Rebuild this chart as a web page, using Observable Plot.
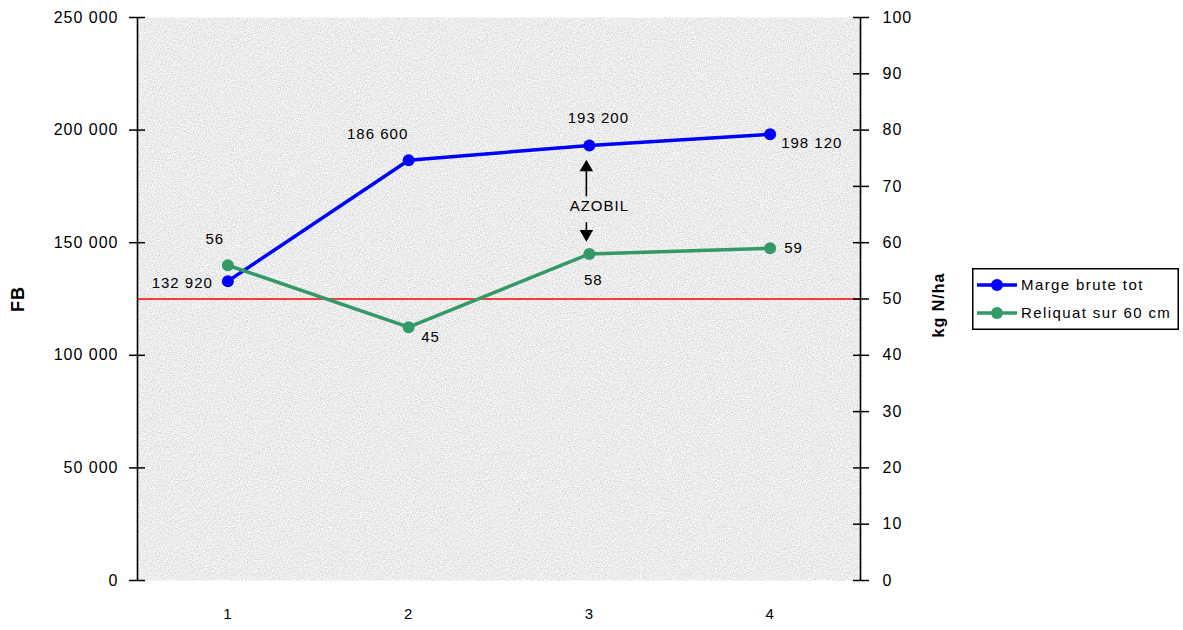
<!DOCTYPE html>
<html>
<head>
<meta charset="utf-8">
<script src="https://cdn.jsdelivr.net/npm/d3@7"></script>
<script src="https://cdn.jsdelivr.net/npm/@observablehq/plot@0.6"></script>
<style>
  html, body { margin: 0; padding: 0; background: #ffffff; }
  #wrap { position: relative; width: 1183px; height: 630px; font-family: "Liberation Sans", Arial, sans-serif; }
  #legend { position: absolute; left: 972px; top: 268px; }
</style>
</head>
<body>
<div id="wrap">
  <div id="chart"></div>
  <div id="legend"></div>
</div>
<script>
// ---- data ----
const categories = [1, 2, 3, 4];
const margeBrute = [132920, 186600, 193200, 198120];   // FB (left axis)
const reliquat = [56, 45, 58, 59];                      // kg N/ha (right axis)
const seuilAzote = [50];                                // kg N/ha reference line
const leftTicks = [0, 50000, 100000, 150000, 200000, 250000];
const rightTicks = [0, 10, 20, 30, 40, 50, 60, 70, 80, 90, 100];
const seriesNames = ["Marge brute tot", "Reliquat sur 60 cm"];
const annotationText = "AZOBIL";
const annotationCategory = 3;
const leftLabel = "FB";
const rightLabel = "kg N/ha";

// ---- scales ----
const leftMax = 250000, rightMax = 100;
const k = leftMax / rightMax; // right-axis value -> left units
const blue = "#0000ff", green = "#339966";
const fmt = v => d3.format(",")(v).replace(/,/g, " ");

const blueData = categories.map((c, i) => ({x: c, y: margeBrute[i], label: fmt(margeBrute[i])}));
const greenData = categories.map((c, i) => ({x: c, y: reliquat[i] * k, label: String(reliquat[i])}));

const blueOffsets = [{dx: -15, dy: 2, a: "end"}, {dx: -31, dy: -26, a: "middle"}, {dx: 9, dy: -27, a: "middle"}, {dx: 11, dy: 9, a: "start"}];
const greenOffsets = [{dx: -13, dy: -26, a: "middle"}, {dx: 22, dy: 10, a: "middle"}, {dx: 4, dy: 26, a: "middle"}, {dx: 14, dy: 0, a: "start"}];

const ai = categories.indexOf(annotationCategory);
const aBlue = margeBrute[ai], aGreen = reliquat[ai] * k, aMid = (aBlue + aGreen) / 2;
const ann = [{x: annotationCategory, mid: aMid, top: aBlue, bot: aGreen}];

const labelMarks = [];
blueData.forEach((d, i) => labelMarks.push(Plot.text([d], {x: "x", y: "y", text: "label", dx: blueOffsets[i].dx, dy: blueOffsets[i].dy, textAnchor: blueOffsets[i].a, fontSize: 15, fill: "#000"})));
greenData.forEach((d, i) => labelMarks.push(Plot.text([d], {x: "x", y: "y", text: "label", dx: greenOffsets[i].dx, dy: greenOffsets[i].dy, textAnchor: greenOffsets[i].a, fontSize: 15, fill: "#000"})));

const chart = Plot.plot({
  width: 1183,
  height: 630,
  marginLeft: 137,
  marginRight: 323,
  marginTop: 17,
  marginBottom: 50,
  style: {fontFamily: "'Liberation Sans', Arial, sans-serif", fontSize: "15px", letterSpacing: "1px", color: "#000", background: "transparent"},
  x: {domain: [0.5, 4.5], axis: null},
  y: {domain: [0, leftMax], axis: null},
  marks: [
    Plot.frame({fill: "#e6e6e6", stroke: null}),
    Plot.ruleY(seuilAzote, {y: d => d * k, stroke: "#ff0000", strokeWidth: 1.6}),
    Plot.axisX({ticks: categories, tickSize: 0, tickPadding: 28, tickFormat: d => String(d), fontSize: 15, label: null}),
    Plot.axisY({ticks: leftTicks, anchor: "left", tickSize: 16, dx: 8, tickPadding: 11, tickFormat: fmt, fontSize: 16, letterSpacing: "1.8px", stroke: "#000", strokeWidth: 1.5, label: null}),
    Plot.axisY({ticks: rightTicks.map(v => v * k), anchor: "right", tickSize: 16, dx: -8, tickPadding: 14, tickFormat: d => String(Math.round(d / k)), fontSize: 16, stroke: "#000", strokeWidth: 1.5, label: null}),
    Plot.ruleX([0.5, 4.5], {stroke: "#000", strokeWidth: 1.6}),
    Plot.line(blueData, {x: "x", y: "y", stroke: blue, strokeWidth: 3.5}),
    Plot.dot(blueData, {x: "x", y: "y", r: 6, fill: blue}),
    Plot.line(greenData, {x: "x", y: "y", stroke: green, strokeWidth: 3.5}),
    Plot.dot(greenData, {x: "x", y: "y", r: 6, fill: green}),
    ...labelMarks,
    // AZOBIL annotation
    Plot.text(ann, {x: "x", y: "mid", text: () => annotationText, dx: 10, dy: 7, fontSize: 15, fill: "#000"}),
    Plot.arrow(ann, {x1: "x", x2: "x", y1: "mid", y2: "top", dx: -3, insetStart: 4, insetEnd: 26, headLength: 0, stroke: "#000", strokeWidth: 1.6}),
    Plot.arrow(ann, {x1: "x", x2: "x", y1: "mid", y2: "bot", dx: -3, insetStart: 23, insetEnd: 22, headLength: 0, stroke: "#000", strokeWidth: 1.6}),
    Plot.dot(ann, {x: "x", y: "top", dx: -3, dy: 22, symbol: "triangle", r: 5, fill: "#000", stroke: null}),
    Plot.dot(ann, {x: "x", y: "bot", dx: -3, dy: -20, symbol: "triangle", r: 5, rotate: 180, fill: "#000", stroke: null}),
    // axis titles
    Plot.text([leftLabel], {frameAnchor: "left", textAnchor: "middle", dx: -119, rotate: -90, fontSize: 18, fontWeight: "bold", fill: "#000", letterSpacing: "-1px"}),
    Plot.text([rightLabel], {frameAnchor: "right", textAnchor: "middle", dx: 78, dy: 6, rotate: -90, fontSize: 16, fontWeight: "bold", fill: "#000", letterSpacing: "2.8px"})
  ]
});

// granite-like texture on the plot frame
const svgNS = "http://www.w3.org/2000/svg";
const defs = document.createElementNS(svgNS, "defs");
defs.innerHTML = `
<filter id="granite" x="0" y="0" width="100%" height="100%" color-interpolation-filters="sRGB">
  <feTurbulence type="fractalNoise" baseFrequency="0.85" numOctaves="2" seed="4" result="n"/>
  <feColorMatrix in="n" type="matrix" values="0.33 0.33 0.33 0 0  0.33 0.33 0.33 0 0  0.33 0.33 0.33 0 0  0 0 0 0 1" result="g"/>
  <feComponentTransfer in="g" result="t">
    <feFuncR type="linear" slope="0.5" intercept="0.68"/>
    <feFuncG type="linear" slope="0.5" intercept="0.68"/>
    <feFuncB type="linear" slope="0.5" intercept="0.68"/>
  </feComponentTransfer>
  <feComposite in="t" in2="SourceGraphic" operator="in"/>
</filter>`;
chart.insertBefore(defs, chart.firstChild);
const frameRect = chart.querySelector("rect");
if (frameRect) frameRect.setAttribute("filter", "url(#granite)");

document.getElementById("chart").appendChild(chart);

// legend
const colors = [blue, green];
const lg = d3.select("#legend").append("svg").attr("width", 208).attr("height", 63)
  .style("font-family", "'Liberation Sans', Arial, sans-serif");
lg.append("rect").attr("x", 0.75).attr("y", 0.75).attr("width", 205.5).attr("height", 60.5)
  .attr("fill", "#fff").attr("stroke", "#000").attr("stroke-width", 1.5);
seriesNames.forEach((name, i) => {
  const cy = 17 + i * 28;
  const g = lg.append("g");
  g.append("line").attr("x1", 5).attr("x2", 45).attr("y1", cy).attr("y2", cy).attr("stroke", colors[i]).attr("stroke-width", 3.5);
  g.append("circle").attr("cx", 25).attr("cy", cy).attr("r", 6).attr("fill", colors[i]);
  g.append("text").attr("x", 49).attr("y", cy + 5).attr("font-size", 15).attr("letter-spacing", "1.4px").attr("fill", "#000").text(name);
});
</script>
</body>
</html>
